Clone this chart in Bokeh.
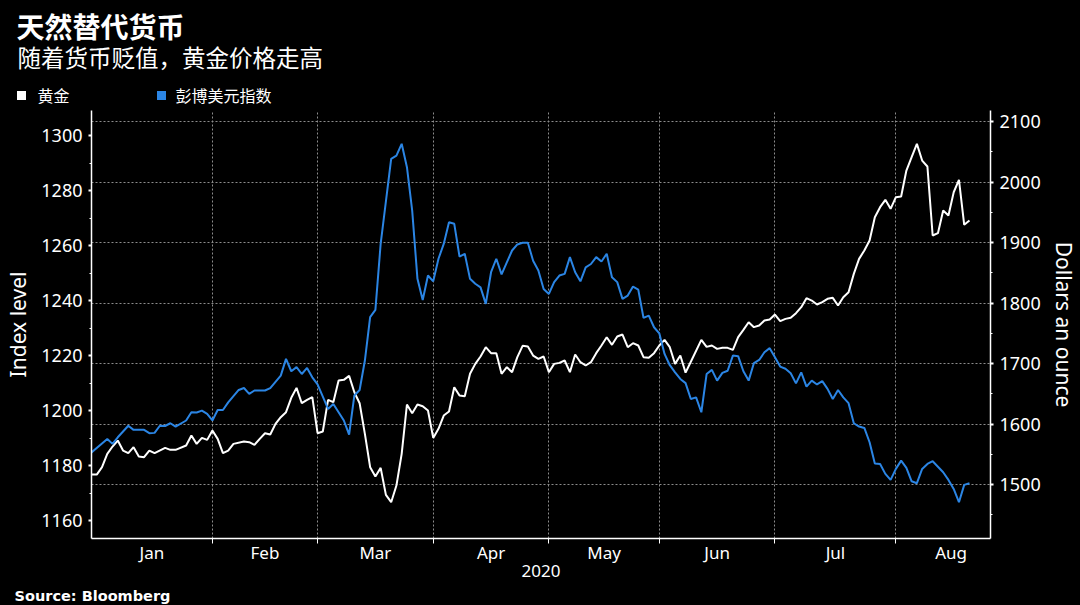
import numpy as np
from bokeh.plotting import figure
from bokeh.layouts import column
from bokeh.models import (Range1d, LinearAxis, FixedTicker, SingleIntervalTicker, Grid,
                          ColumnDataSource)
from bokeh.core.properties import value
from bokeh.embed import file_html
from bokeh.resources import INLINE

# ---------------- data ----------------
title = "天然替代货币"
subtitle = "随着货币贬值，黄金价格走高"
series_names = ["黄金", "彭博美元指数"]
source_note = "Source: Bloomberg"
months = ["Jan", "Feb", "Mar", "Apr", "May", "Jun", "Jul", "Aug"]
month_starts = ["2020-01-01", "2020-02-01", "2020-03-01", "2020-04-01", "2020-05-01",
                "2020-06-01", "2020-07-01", "2020-08-01", "2020-09-01"]
year_label = "2020"

# trading-day index (weekdays since 2020-01-01)
dxy_day = [0, 3, 4, 5, 7, 8, 10, 11, 12, 13, 14, 15, 16, 18, 19, 20, 21, 22, 23, 24, 25, 26, 28,
           29, 30, 31, 33, 34, 36, 37, 38, 39, 40, 41, 42, 43, 45, 46, 48, 49, 50, 51, 52, 53, 54,
           55, 57, 58, 59, 60, 61, 62, 63, 64, 65, 66, 67, 68, 69, 70, 71, 72, 73, 74, 75, 76, 77,
           78, 79, 80, 81, 82, 83, 84, 85, 86, 87, 88, 89, 90, 91, 92, 93, 94, 95, 96, 97, 98, 99,
           100, 101, 102, 103, 104, 105, 106, 107, 108, 109, 110, 111, 112, 113, 114, 115, 116,
           117, 118, 119, 120, 121, 122, 123, 124, 125, 126, 127, 128, 129, 130, 131, 132, 133,
           134, 135, 136, 137, 138, 139, 140, 141, 142, 143, 144, 145, 146, 147, 148, 149, 150,
           151, 152, 153, 154, 155, 156, 157, 158, 159, 160, 161, 162, 163, 164, 165, 166, 167]
dxy_val = [1184.8, 1189.7, 1187.9, 1190.3, 1194.5, 1193.0, 1193.0, 1191.8, 1191.9, 1194.5, 1194.4,
           1195.4, 1194.2, 1196.4, 1199.4, 1199.3, 1200.0, 1198.8, 1196.4, 1200.2, 1200.2, 1203.0,
           1207.5, 1208.2, 1206.1, 1207.3, 1207.3, 1208.2, 1212.7, 1218.8, 1214.3, 1215.8, 1213.3,
           1215.5, 1212.1, 1209.5, 1200.6, 1202.4, 1196.4, 1191.3, 1205.5, 1207.5, 1218.2, 1234.0,
           1236.6, 1260.6, 1291.5, 1292.7, 1297.0, 1288.5, 1272.7, 1247.9, 1240.2, 1249.1, 1247.0,
           1255.2, 1260.6, 1268.5, 1267.9, 1256.0, 1257.0, 1247.9, 1246.1, 1244.8, 1238.8, 1250.3,
           1255.2, 1249.5, 1253.9, 1258.2, 1260.4, 1261.0, 1261.0, 1254.5, 1250.9, 1244.2, 1242.4,
           1246.7, 1249.1, 1249.7, 1255.8, 1250.3, 1247.0, 1252.1, 1253.3, 1255.8, 1254.2, 1257.0,
           1248.5, 1246.7, 1240.6, 1241.8, 1245.1, 1244.0, 1233.7, 1234.5, 1230.3, 1228.1, 1220.6,
           1216.5, 1213.9, 1211.5, 1210.0, 1204.2, 1204.8, 1199.4, 1213.3, 1214.8, 1210.9, 1213.7,
           1214.5, 1220.0, 1219.8, 1214.3, 1210.9, 1217.3, 1218.4, 1221.2, 1222.7, 1219.4, 1216.0,
           1215.2, 1213.6, 1209.9, 1213.9, 1208.7, 1210.9, 1209.5, 1210.7, 1207.9, 1204.2, 1207.5,
           1204.8, 1202.7, 1195.4, 1194.2, 1193.7, 1188.5, 1180.8, 1180.6, 1177.0, 1174.8, 1178.8,
           1181.8, 1179.2, 1174.3, 1173.6, 1178.8, 1180.6, 1181.6, 1179.6, 1177.6, 1174.8, 1171.5,
           1166.7, 1173.0, 1173.6]

gold_day = [0, 1, 2, 3, 4, 5, 6, 7, 8, 9, 10, 11, 12, 14, 15, 16, 18, 19, 20, 21, 22, 23, 24, 25,
            26, 27, 29, 30, 31, 32, 33, 34, 35, 36, 37, 38, 39, 40, 41, 42, 43, 44, 45, 46, 47, 48,
            49, 50, 51, 52, 53, 54, 55, 56, 57, 58, 59, 60, 61, 62, 63, 64, 65, 66, 67, 68, 69, 70,
            71, 72, 73, 74, 75, 76, 77, 78, 79, 80, 81, 82, 83, 84, 85, 86, 87, 88, 89, 90, 91, 92,
            93, 94, 95, 96, 97, 98, 99, 100, 101, 102, 103, 104, 105, 106, 107, 108, 109, 110, 111,
            112, 113, 114, 116, 117, 118, 119, 120, 121, 122, 123, 124, 125, 126, 127, 128, 129,
            130, 131, 132, 133, 134, 135, 136, 137, 138, 139, 140, 141, 142, 143, 144, 145, 146,
            147, 148, 149, 150, 151, 152, 153, 154, 155, 156, 157, 158, 159, 160, 161, 162, 163,
            164, 165, 166, 167]
gold_val = [1516.5, 1516.5, 1528.7, 1550.7, 1562.8, 1572.7, 1556.2, 1551.8, 1561.7, 1546.3, 1545.2,
            1556.2, 1551.8, 1560.6, 1557.3, 1557.3, 1564.5, 1581.0, 1567.2, 1577.1, 1573.8, 1589.3,
            1575.5, 1551.8, 1556.2, 1567.2, 1571.1, 1570.0, 1565.6, 1575.5, 1584.8, 1582.6, 1600.3,
            1611.3, 1619.6, 1643.3, 1659.8, 1634.4, 1640.0, 1644.4, 1584.8, 1587.6, 1640.0, 1636.1,
            1671.9, 1673.0, 1679.6, 1652.6, 1634.4, 1583.7, 1528.7, 1513.2, 1527.5, 1483.0, 1470.8,
            1498.3, 1550.7, 1632.2, 1617.9, 1632.2, 1629.5, 1622.3, 1577.1, 1592.0, 1614.0, 1620.7,
            1660.9, 1647.1, 1646.0, 1683.0, 1699.4, 1711.6, 1727.0, 1717.1, 1717.1, 1683.0, 1694.0,
            1685.7, 1710.5, 1729.2, 1728.1, 1713.2, 1707.7, 1711.6, 1685.7, 1699.4, 1701.1, 1705.0,
            1685.7, 1714.9, 1702.2, 1696.7, 1702.2, 1717.1, 1729.8, 1743.5, 1730.9, 1744.6, 1747.9,
            1727.0, 1733.6, 1729.8, 1710.5, 1709.4, 1717.1, 1729.8, 1739.1, 1727.0, 1699.4, 1713.2,
            1685.0, 1703.0, 1739.1, 1727.5, 1729.8, 1724.2, 1725.9, 1725.9, 1722.6, 1743.5, 1755.6,
            1768.3, 1760.1, 1762.8, 1771.1, 1772.7, 1781.0, 1770.0, 1773.8, 1775.5, 1783.2, 1793.1,
            1808.0, 1804.1, 1797.5, 1801.4, 1806.9, 1808.6, 1795.9, 1809.6, 1817.9, 1848.2, 1873.0,
            1886.8, 1903.3, 1941.9, 1958.4, 1970.5, 1955.7, 1974.9, 1976.0, 2019.0, 2041.0, 2063.1,
            2035.5, 2025.6, 1911.6, 1915.4, 1952.9, 1944.6, 1983.1, 2003.6, 1929.3, 1936.4]

# ---------------- derived positions ----------------
bounds = [int(np.busday_count(month_starts[0], m)) for m in month_starts]
mids = [(a + b) / 2 for a, b in zip(bounds[:-1], bounds[1:])]

WHITE = "#ffffff"
BLUE = "#2b85e4"
GRID = "#8c8c8c"
NUM_FONT = "Noto Sans"
CJK = "Noto Sans CJK SC"
W = 1080
HEAD_H, MAIN_H, FOOT_H = 110, 476, 19


def blank(h):
    f = figure(width=W, height=h, output_backend="svg", toolbar_location=None,
               x_range=Range1d(0, W), y_range=Range1d(h, 0),
               x_axis_type=None, y_axis_type=None,
               min_border_left=0, min_border_right=0, min_border_top=0, min_border_bottom=0)
    f.background_fill_color = "black"
    f.border_fill_color = "black"
    f.outline_line_color = None
    f.grid.visible = False
    f.frame_align = False
    return f


# ---------------- header (title, subtitle, legend) ----------------
head = blank(HEAD_H)
head.text(x=[16], y=[25], text=[title], text_font=value(CJK), text_font_style="bold",
          text_font_size="28px", text_color=WHITE, text_baseline="middle")
head.text(x=[17], y=[56], text=[subtitle], text_font=value(CJK),
          text_font_size="23.5px", text_color=WHITE, text_baseline="middle")
head.rect(x=[21, 161], y=[95, 95], width=9, height=9, fill_color=[WHITE, BLUE], line_color=None)
head.text(x=[37, 175], y=[94, 94], text=series_names, text_font=value(CJK),
          text_font_size="16px", text_color=WHITE, text_baseline="middle")

# ---------------- main chart ----------------
p = figure(width=W, height=MAIN_H, output_backend="svg", toolbar_location=None,
           x_range=Range1d(0, 171), y_range=Range1d(1153.5, 1309.1),
           min_border_left=91, min_border_right=82, min_border_top=0, min_border_bottom=48)
p.frame_align = False
p.background_fill_color = "black"
p.border_fill_color = "black"
p.outline_line_color = None
p.extra_y_ranges = {"gold": Range1d(1410.8, 2118.2)}

gsrc = ColumnDataSource(dict(day=gold_day, val=gold_val))
dsrc = ColumnDataSource(dict(day=dxy_day, val=dxy_val))
p.line("day", "val", source=gsrc, y_range_name="gold", line_color=WHITE, line_width=2)
p.line("day", "val", source=dsrc, line_color=BLUE, line_width=2)

xa = p.xaxis[0]
xa.ticker = FixedTicker(ticks=mids, minor_ticks=bounds[1:-1])
xa.major_label_overrides = {m: name for m, name in zip(mids, months)}
xa.major_tick_line_color = None
xa.major_tick_in = 0
xa.major_tick_out = 0
xa.minor_tick_line_color = WHITE
xa.minor_tick_in = 0
xa.minor_tick_out = 5
xa.axis_line_color = WHITE
xa.axis_line_width = 1.5
xa.major_label_text_color = WHITE
xa.major_label_text_font = NUM_FONT
xa.major_label_text_font_size = "17px"
xa.major_label_standoff = -3
xa.axis_label = year_label
xa.axis_label_text_color = WHITE
xa.axis_label_text_font = NUM_FONT
xa.axis_label_text_font_size = "17px"
xa.axis_label_text_font_style = "normal"
xa.axis_label_standoff = -2

ya = p.yaxis[0]
ya.ticker = SingleIntervalTicker(interval=20, num_minor_ticks=2)
ya.axis_label = "Index level"

ra = LinearAxis(y_range_name="gold", ticker=SingleIntervalTicker(interval=100, num_minor_ticks=2),
                axis_label="Dollars an ounce")
p.add_layout(ra, "right")

for ax in (ya, ra):
    ax.axis_line_color = WHITE
    ax.axis_line_width = 1.5
    ax.major_tick_line_color = WHITE
    ax.major_tick_line_width = 2
    ax.major_tick_in = 0
    ax.major_tick_out = 3
    ax.minor_tick_line_color = WHITE
    ax.minor_tick_in = 0
    ax.minor_tick_out = 2
    ax.major_label_text_color = WHITE
    ax.major_label_text_font = NUM_FONT
    ax.major_label_text_font_size = "18px"
    ax.major_label_standoff = 6
    ax.axis_label_text_color = WHITE
    ax.axis_label_text_font = NUM_FONT
    ax.axis_label_text_font_size = "21px"
    ax.axis_label_text_font_style = "normal"
    ax.axis_label_standoff = 6

p.ygrid.visible = False
p.xgrid.ticker = FixedTicker(ticks=bounds[1:-1])
p.xgrid.grid_line_color = GRID
p.xgrid.grid_line_dash = "2 2"
p.xgrid.grid_line_width = 1
p.add_layout(Grid(dimension=1, ticker=ra.ticker, y_range_name="gold",
                  grid_line_color=GRID, grid_line_dash="2 2", grid_line_width=1))

# ---------------- footer ----------------
foot = blank(FOOT_H)
foot.text(x=[14], y=[9], text=[source_note], text_font=value("DejaVu Sans"),
          text_font_style="bold", text_font_size="14.5px", text_color=WHITE,
          text_baseline="middle")

layout = column(head, p, foot, spacing=0)
layout.styles = {"background-color": "black"}
open("out.html", "w").write(file_html(layout, INLINE))
